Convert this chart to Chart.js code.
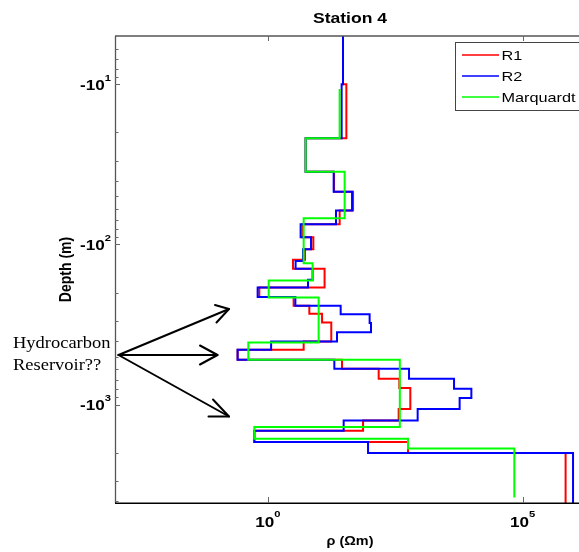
<!DOCTYPE html>
<html><head><meta charset="utf-8">
<script src="https://cdn.jsdelivr.net/npm/chart.js@4.4.1/dist/chart.umd.min.js"></script>
<style>html,body{margin:0;padding:0;background:#fff;overflow:hidden}#wrap{width:579px;height:552px;overflow:hidden;position:relative;background:#fff}canvas{display:block}</style>
</head><body><div id="wrap"><canvas id="c" width="600" height="552" style="width:600px;height:552px"></canvas></div>
<script>
// ---- data (resistivity in ohm-m per layer, layer boundary depths in m) ----
const seriesNames = ['R1', 'R2', 'Marquardt'];
const seriesColors = ['#ff0000', '#0000ff', '#00ff00'];

const r1Rho = [29.9, 34.8, 5.52, 19.9, 47.1, 25.7, 4.76, 7.82, 5.37, 3.12, 13.0, 0.681, 3.21, 6.53, 11.6, 17.6, 5.05, 0.255, 28.6, 150, 381, 627, 370, 74.0, 0.543, 565, 7.0e5];
const r1Depth = [5, 10, 21.7, 35.1, 46.8, 61.3, 74.7, 90.0, 107, 124.7, 141.9, 185.6, 213, 241.4, 270.8, 306.9, 403, 454, 524.3, 596.6, 688.6, 786.6, 1063.6, 1253, 1452, 1708, 2000, 4103];

const r2Rho = [29.9, 28.1, 5.52, 19.6, 45.0, 21.8, 4.40, 7.05, 4.91, 3.51, 7.57, 6.15, 0.631, 3.47, 26.9, 99.6, 106, 22.8, 1.16, 0.255, 20.2, 591, 4520, 9890, 5820, 873, 30.8, 0.543, 92.7, 9.8e5];
const r2Depth = [5, 10, 21.7, 35.1, 46.8, 61.3, 74.7, 90.0, 107, 126.6, 141.9, 166.2, 185.6, 213, 241.4, 272.7, 309.5, 352.3, 403, 454, 524.3, 596.6, 688.6, 794.8, 908.2, 1063.6, 1253, 1452, 1708, 2000, 4103];

const mqRho = [25.7, 5.52, 32.2, 5.05, 7.57, 1.04, 9.94, 0.414, 390, 0.543, 565, 69000];
const mqDepth = [10.7, 21.7, 35.1, 68.6, 130.8, 167.9, 214.3, 408.9, 524.3, 1377, 1629, 1873, 3785];

const xTickValues = [1, 1e5];
const xTickExps = ['0', '5'];
const yTickValues = [10, 100, 1000];
const yTickExps = ['1', '2', '3'];
const titleText = 'Station 4';
const xTitle = 'ρ (Ωm)';
const yTitle = 'Depth (m)';
const noteLines = ['Hydrocarbon', 'Reservoir??'];

const xMin = 1e-3, xMax = Math.pow(10, 6.226);
const yMin = 5, yMax = 4103;

function steps(rho, depth) {
  const pts = [];
  for (let i = 0; i < rho.length; i++) {
    pts.push({x: rho[i], y: depth[i]});
    pts.push({x: rho[i], y: depth[i + 1]});
  }
  return pts;
}

function sText(ctx, txt, x, y, font, align, sx) {
  ctx.save();
  ctx.font = font;
  const w = ctx.measureText(txt).width * sx;
  let x0 = x;
  if (align === 'center') x0 = x - w / 2; else if (align === 'right') x0 = x - w;
  ctx.translate(x0, y);
  ctx.scale(sx, 1);
  ctx.textAlign = 'left';
  ctx.textBaseline = 'alphabetic';
  ctx.fillText(txt, 0, 0);
  ctx.restore();
  return w;
}
function tw(ctx, txt, font, sx) { ctx.save(); ctx.font = font; const w = ctx.measureText(txt).width * sx; ctx.restore(); return w; }

const SX = 1.18;
const baseFont = 'bold 14.5px "Liberation Sans", Arial, sans-serif';
const expFont = 'bold 9.5px "Liberation Sans", Arial, sans-serif';

const deco = {
  id: 'deco',
  afterDraw(chart) {
    const ctx = chart.ctx, a = chart.chartArea, xs = chart.scales.x, ys = chart.scales.y;
    ctx.save();
    ctx.fillStyle = '#000';
    // axes box
    ctx.strokeStyle = '#555'; ctx.lineWidth = 1.3;
    ctx.beginPath(); ctx.moveTo(a.left, a.top); ctx.lineTo(a.right, a.top); ctx.stroke();
    ctx.beginPath(); ctx.moveTo(a.left + 0.5, a.top); ctx.lineTo(a.left + 0.5, a.bottom); ctx.stroke();
    ctx.beginPath(); ctx.moveTo(a.right, a.top); ctx.lineTo(a.right, a.bottom); ctx.stroke();
    ctx.strokeStyle = '#000'; ctx.lineWidth = 1.5;
    ctx.beginPath(); ctx.moveTo(a.left, a.bottom + 0.3); ctx.lineTo(a.right, a.bottom + 0.3); ctx.stroke();
    // x ticks
    ctx.strokeStyle = '#666'; ctx.lineWidth = 1;
    xTickValues.forEach(v => {
      const px = Math.round(xs.getPixelForValue(v)) + 0.5;
      ctx.beginPath(); ctx.moveTo(px, a.bottom); ctx.lineTo(px, a.bottom - 6); ctx.stroke();
      ctx.beginPath(); ctx.moveTo(px, a.top); ctx.lineTo(px, a.top + 5); ctx.stroke();
    });
    // y ticks (major + minor)
    for (let e = 0; e <= 4; e++) {
      for (let k = 1; k <= 9; k++) {
        const v = k * Math.pow(10, e);
        if (v <= yMin || v >= yMax) continue;
        const py = Math.round(ys.getPixelForValue(v)) + 0.5;
        const len = k === 1 ? 5 : 3.5;
        ctx.beginPath(); ctx.moveTo(a.left, py); ctx.lineTo(a.left + len, py); ctx.stroke();
        ctx.beginPath(); ctx.moveTo(a.right, py); ctx.lineTo(a.right - len, py); ctx.stroke();
      }
    }
    // x tick labels
    ctx.fillStyle = '#000';
    xTickValues.forEach((v, i) => {
      const px = xs.getPixelForValue(v);
      const wb = tw(ctx, '10', baseFont, SX), we = tw(ctx, xTickExps[i], expFont, SX);
      const x0 = px - (wb + we) / 2;
      sText(ctx, '10', x0, 527, baseFont, 'left', SX);
      sText(ctx, xTickExps[i], x0 + wb, 517, expFont, 'left', SX);
    });
    // y tick labels
    yTickValues.forEach((v, i) => {
      const py = ys.getPixelForValue(v);
      const we = tw(ctx, yTickExps[i], expFont, SX);
      const right = 111;
      sText(ctx, yTickExps[i], right - we, py - 3.5, expFont, 'left', SX);
      sText(ctx, '-10', right - we, py + 5.5, baseFont, 'right', SX);
    });
    // title & axis titles
    sText(ctx, titleText, (a.left + a.right) / 2, 23, 'bold 15px "Liberation Sans", Arial, sans-serif', 'center', 1.17);
    sText(ctx, xTitle, (a.left + a.right) / 2, 545, 'bold 12px "Liberation Sans", Arial, sans-serif', 'center', 1.2);
    ctx.save();
    ctx.translate(71, (a.top + a.bottom) / 2);
    ctx.scale(1.22, 1);
    ctx.rotate(-Math.PI / 2);
    ctx.font = 'bold 14px "Liberation Sans", Arial, sans-serif';
    ctx.textAlign = 'center'; ctx.textBaseline = 'alphabetic';
    ctx.fillText(yTitle, 0, 0);
    ctx.restore();
    // legend
    const lx = 455.5, ly = 42.5, lw = 126, lh = 68;
    ctx.fillStyle = '#fff'; ctx.fillRect(lx, ly, lw, lh);
    ctx.strokeStyle = '#444'; ctx.lineWidth = 1; ctx.strokeRect(lx, ly, lw, lh);
    const rows = [55, 76, 97];
    seriesNames.forEach((n, i) => {
      ctx.strokeStyle = seriesColors[i]; ctx.lineWidth = 1.5;
      ctx.beginPath(); ctx.moveTo(462, rows[i]); ctx.lineTo(499, rows[i]); ctx.stroke();
      ctx.fillStyle = '#000';
      sText(ctx, n, 501.5, rows[i] + 4.5, '13px "Liberation Sans", Arial, sans-serif', 'left', 1.25);
    });
    // annotation
    ctx.fillStyle = '#000';
    sText(ctx, noteLines[0], 13, 348, '16.5px "Liberation Serif", "Times New Roman", serif', 'left', 1.12);
    sText(ctx, noteLines[1], 13, 370, '16.5px "Liberation Serif", "Times New Roman", serif', 'left', 1.12);
    ctx.strokeStyle = '#000'; ctx.lineWidth = 2; ctx.lineCap = 'round'; ctx.lineJoin = 'round';
    const tail = [118.5, 355];
    const arrows = [
      [[229, 309], [215, 305], [216.5, 322.5]],
      [[217.5, 355], [200, 345.5], [200, 364.5]],
      [[229, 416.5], [208.5, 416.5], [213, 399.5]]
    ];
    arrows.forEach(([tip, h1, h2]) => {
      ctx.beginPath(); ctx.moveTo(tail[0], tail[1]); ctx.lineTo(tip[0], tip[1]); ctx.stroke();
      ctx.beginPath(); ctx.moveTo(h1[0], h1[1]); ctx.lineTo(tip[0], tip[1]); ctx.lineTo(h2[0], h2[1]); ctx.stroke();
    });
    ctx.restore();
  }
};

const ds = (name, rho, depth, color, order) => ({
  label: name, data: steps(rho, depth), showLine: true, borderColor: color, backgroundColor: color,
  borderWidth: 2, pointRadius: 0, pointHoverRadius: 0, fill: false, tension: 0, order: order
});

new Chart(document.getElementById('c'), {
  type: 'scatter',
  data: {
    datasets: [
      ds(seriesNames[0], r1Rho, r1Depth, seriesColors[0], 3),
      ds(seriesNames[1], r2Rho, r2Depth, seriesColors[1], 2),
      ds(seriesNames[2], mqRho, mqDepth, seriesColors[2], 1)
    ]
  },
  options: {
    responsive: false, animation: false, devicePixelRatio: 1,
    layout: { padding: { left: 115, top: 36, right: 15, bottom: 49 } },
    plugins: { legend: { display: false }, tooltip: { enabled: false }, title: { display: false } },
    scales: {
      x: { type: 'logarithmic', display: false, min: xMin, max: xMax },
      y: { type: 'logarithmic', display: false, reverse: true, min: yMin, max: yMax }
    }
  },
  plugins: [deco]
});
</script>
</body></html>
